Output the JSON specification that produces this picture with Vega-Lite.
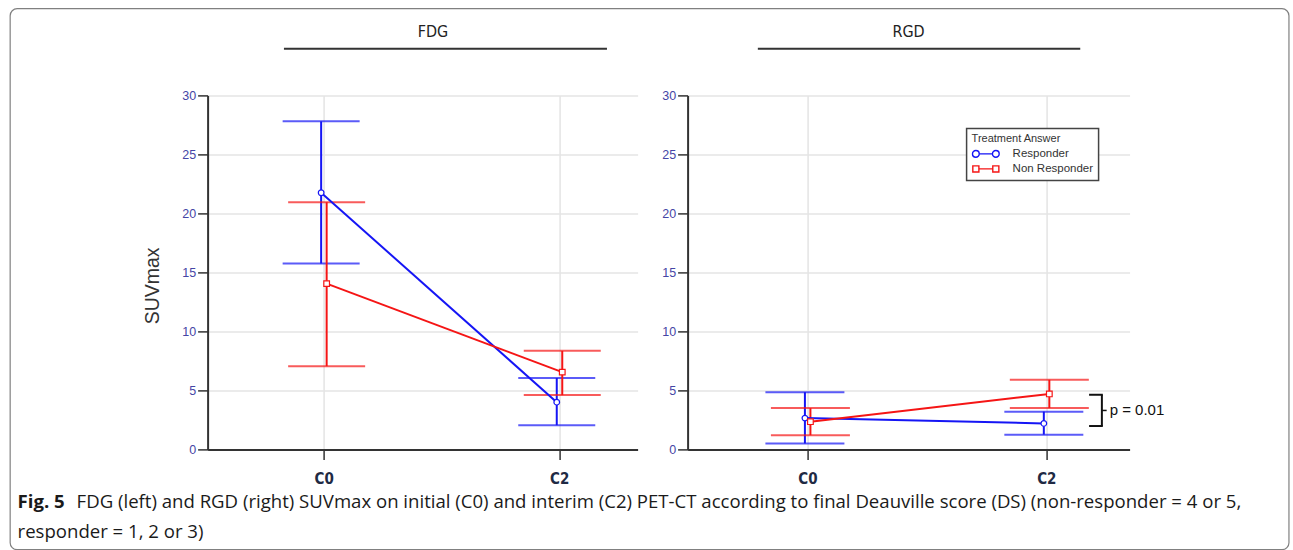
{
  "$schema": "https://vega.github.io/schema/vega-lite/v6.json",
  "padding": {"left": 8.6, "top": 7.4, "right": 0, "bottom": 0},
  "background": "white",
  "config": {
    "view": {"stroke": null},
    "font": "Liberation Sans",
    "axis": {
      "domainColor": "#333333", "domainWidth": 2,
      "tickColor": "#333333", "tickWidth": 1.5, "tickSize": 10,
      "gridColor": "#e4e4e4", "gridWidth": 1.5,
      "labelFont": "Liberation Sans"
    }
  },
  "title": {
    "text": "Fig. 5",
    "subtitle": "responder = 1, 2 or 3)",
    "orient": "bottom", "anchor": "start", "dx": 8, "dy": -57, "offset": 0,
    "font": "Open Sans", "fontSize": 18.6, "fontWeight": "bold", "color": "#1a1a1a",
    "subtitleFont": "Open Sans", "subtitleFontSize": 18.6, "subtitleColor": "#1a1a1a", "subtitleFontWeight": "normal",
    "subtitlePadding": 11.4
  },
  "datasets": {
    "suv": [
      {"tracer": "FDG", "group": "Responder", "cycle": 0, "mean": 21.75, "lo": 15.75, "hi": 27.8},
      {"tracer": "FDG", "group": "Responder", "cycle": 2, "mean": 4.0, "lo": 2.05, "hi": 6.05},
      {"tracer": "FDG", "group": "Non Responder", "cycle": 0, "mean": 14.05, "lo": 7.05, "hi": 20.95},
      {"tracer": "FDG", "group": "Non Responder", "cycle": 2, "mean": 6.55, "lo": 4.6, "hi": 8.35},
      {"tracer": "RGD", "group": "Responder", "cycle": 0, "mean": 2.65, "lo": 0.5, "hi": 4.85},
      {"tracer": "RGD", "group": "Responder", "cycle": 2, "mean": 2.2, "lo": 1.25, "hi": 3.2},
      {"tracer": "RGD", "group": "Non Responder", "cycle": 0, "mean": 2.35, "lo": 1.2, "hi": 3.5},
      {"tracer": "RGD", "group": "Non Responder", "cycle": 2, "mean": 4.7, "lo": 3.5, "hi": 5.9}
    ]
  },
  "vconcat": [
    {
      "title": {
        "text": "FDG (left) and RGD (right) SUVmax on initial (C0) and interim (C2) PET-CT according to final Deauville score (DS) (non-responder = 4 or 5,",
        "orient": "bottom", "anchor": "start", "dx": 67, "dy": -57, "offset": 0,
        "font": "Open Sans", "fontSize": 18.6, "fontWeight": "normal", "color": "#1a1a1a"
      },
      "bounds": "flush",
      "spacing": 50,
      "hconcat": [
        {
          "width": 430, "height": 354,
          "data": {"name": "suv"},
          "encoding": {
            "x": {"field": "cycle", "type": "quantitative",
                  "scale": {"domain": [-0.985, 2.665], "nice": false, "zero": false},
                  "axis": {"title": null, "values": [0, 2], "labelExpr": "'C' + datum.value", "labelFont": "DejaVu Sans Condensed", "labelFontWeight": "bold", "labelFontSize": 15, "labelColor": "#1f2a44", "labelPadding": 12, "labelDx": 5, "grid": true}}
          },
          "layer": [
            {
              "transform": [{"filter": "datum.tracer === 'FDG' && datum.group === 'Responder' && datum.cycle === 0"}],
              "layer": [
                {
                  "mark": {"type": "rect", "clip": false, "fill": null, "fillOpacity": 0, "stroke": "#808080", "strokeWidth": 1.2, "cornerRadius": 7},
                  "encoding": {"x": {"datum": -2.661}, "x2": {"datum": 8.194}, "y": {"datum": 37.35, "type": "quantitative", "scale": {"domain": [0, 30], "nice": false}, "axis": {"title": "SUVmax", "titleFontSize": 19.5, "titleFont": "Liberation Sans", "titleColor": "#333333", "titleFontWeight": "normal", "titlePadding": 19, "titleY": 190, "values": [0, 5, 10, 15, 20, 25, 30], "labelColor": "#4545a5", "labelFontSize": 12.5, "labelPadding": 2, "grid": true}}, "y2": {"datum": -8.5}}
                },
                {
                  "mark": {"type": "rule", "clip": false, "color": "#333333", "strokeWidth": 2},
                  "encoding": {"x": {"datum": -0.337}, "x2": {"datum": 2.405}, "y": {"datum": 33.96}}
                },
                {
                  "mark": {"type": "text", "clip": false, "align": "center", "baseline": "middle", "font": "DejaVu Sans Condensed", "fontSize": 16, "fontWeight": "normal", "color": "#222222"},
                  "encoding": {"x": {"datum": 0.928}, "y": {"datum": 35.4}, "text": {"value": "FDG"}}
                }
              ]
            },
            {
              "transform": [{"filter": "datum.tracer === 'FDG' && datum.group === 'Responder'"}],
              "layer": [
                {"mark": {"type": "rule", "strokeWidth": 2, "xOffset": -2.5, "color": "#1515f5"},
                 "encoding": {"y": {"field": "lo", "type": "quantitative"}, "y2": {"field": "hi"}}},
                {"mark": {"type": "tick", "orient": "horizontal", "size": 77, "thickness": 2, "xOffset": -2.5, "color": "#1515f5"},
                 "encoding": {"y": {"field": "hi", "type": "quantitative"}}},
                {"mark": {"type": "tick", "orient": "horizontal", "size": 77, "thickness": 2, "xOffset": -2.5, "color": "#1515f5"},
                 "encoding": {"y": {"field": "lo", "type": "quantitative"}}}
              ]
            },
            {
              "transform": [{"filter": "datum.tracer === 'FDG' && datum.group === 'Non Responder'"}],
              "layer": [
                {"mark": {"type": "rule", "strokeWidth": 2, "xOffset": 3, "color": "#f51515"},
                 "encoding": {"y": {"field": "lo", "type": "quantitative"}, "y2": {"field": "hi"}}},
                {"mark": {"type": "tick", "orient": "horizontal", "size": 77, "thickness": 2, "xOffset": 3, "color": "#f51515"},
                 "encoding": {"y": {"field": "hi", "type": "quantitative"}}},
                {"mark": {"type": "tick", "orient": "horizontal", "size": 77, "thickness": 2, "xOffset": 3, "color": "#f51515"},
                 "encoding": {"y": {"field": "lo", "type": "quantitative"}}}
              ]
            },
            {"transform": [{"filter": "datum.tracer === 'FDG'"}],
             "mark": {"type": "line", "strokeWidth": 2, "xOffset": {"expr": "datum.group === 'Responder' ? -2.5 : 3"}},
             "encoding": {"y": {"field": "mean", "type": "quantitative"},
               "color": {"field": "group", "type": "nominal", "scale": {"domain": ["Responder", "Non Responder"], "range": ["#1515f5", "#f51515"]}, "legend": null}}},
            {"transform": [{"filter": "datum.tracer === 'FDG' && datum.group === 'Responder'"}],
             "mark": {"type": "point", "shape": "circle", "filled": false, "fill": "white", "fillOpacity": 1, "opacity": 1, "size": 32, "strokeWidth": 1.2, "xOffset": -2.5, "color": "#1515f5"},
             "encoding": {"y": {"field": "mean", "type": "quantitative"}}},
            {"transform": [{"filter": "datum.tracer === 'FDG' && datum.group === 'Non Responder'"}],
             "mark": {"type": "point", "shape": "square", "filled": false, "fill": "white", "fillOpacity": 1, "opacity": 1, "size": 32, "strokeWidth": 1.2, "xOffset": 3, "color": "#f51515"},
             "encoding": {"y": {"field": "mean", "type": "quantitative"}}}
          ]
        },
        {
          "width": 442, "height": 354,
          "data": {"name": "suv"},
          "encoding": {
            "x": {"field": "cycle", "type": "quantitative",
                  "scale": {"domain": [-1.003, 2.697], "nice": false, "zero": false},
                  "axis": {"title": null, "values": [0, 2], "labelExpr": "'C' + datum.value", "labelFont": "DejaVu Sans Condensed", "labelFontWeight": "bold", "labelFontSize": 15, "labelColor": "#1f2a44", "labelPadding": 12, "labelDx": 5, "grid": true}}
          },
          "layer": [
            {
              "transform": [{"filter": "datum.tracer === 'RGD' && datum.group === 'Responder' && datum.cycle === 0"}],
              "layer": [
                {
                  "mark": {"type": "rule", "clip": false, "color": "#333333", "strokeWidth": 2},
                  "encoding": {"x": {"datum": -0.415}, "x2": {"datum": 2.284}, "y": {"datum": 33.96, "type": "quantitative", "scale": {"domain": [0, 30], "nice": false}, "axis": {"title": null, "values": [0, 5, 10, 15, 20, 25, 30], "labelColor": "#4545a5", "labelFontSize": 12.5, "labelPadding": 2, "grid": true}}}
                },
                {
                  "mark": {"type": "text", "clip": false, "align": "center", "baseline": "middle", "font": "DejaVu Sans Condensed", "fontSize": 16, "fontWeight": "normal", "color": "#222222"},
                  "encoding": {"x": {"datum": 0.847}, "y": {"datum": 35.4}, "text": {"value": "RGD"}}
                },
                {
                  "mark": {"type": "rule", "clip": false, "strokeWidth": 2, "color": "#111111"},
                  "encoding": {"x": {"datum": 2.465}, "y": {"datum": 1.98}, "y2": {"datum": 4.63}}
                },
                {
                  "mark": {"type": "rule", "clip": false, "strokeWidth": 2, "color": "#111111"},
                  "encoding": {"x": {"datum": 2.358}, "x2": {"datum": 2.473}, "y": {"datum": 4.63}}
                },
                {
                  "mark": {"type": "rule", "clip": false, "strokeWidth": 2, "color": "#111111"},
                  "encoding": {"x": {"datum": 2.358}, "x2": {"datum": 2.473}, "y": {"datum": 1.98}}
                },
                {
                  "mark": {"type": "rule", "clip": false, "strokeWidth": 1.5, "color": "#111111"},
                  "encoding": {"x": {"datum": 2.465}, "x2": {"datum": 2.505}, "y": {"datum": 3.3}}
                },
                {
                  "mark": {"type": "text", "clip": false, "align": "left", "baseline": "middle", "font": "Liberation Sans", "fontSize": 15, "fontWeight": "normal", "color": "#111111"},
                  "encoding": {"x": {"datum": 2.53}, "y": {"datum": 3.3}, "text": {"value": "p = 0.01"}}
                }
              ]
            },
            {
              "transform": [{"filter": "datum.tracer === 'RGD' && datum.group === 'Responder'"}],
              "layer": [
                {"mark": {"type": "rule", "strokeWidth": 2, "xOffset": -2.5, "color": "#1515f5"},
                 "encoding": {"y": {"field": "lo", "type": "quantitative"}, "y2": {"field": "hi"}}},
                {"mark": {"type": "tick", "orient": "horizontal", "size": 79, "thickness": 2, "xOffset": -2.5, "color": "#1515f5"},
                 "encoding": {"y": {"field": "hi", "type": "quantitative"}}},
                {"mark": {"type": "tick", "orient": "horizontal", "size": 79, "thickness": 2, "xOffset": -2.5, "color": "#1515f5"},
                 "encoding": {"y": {"field": "lo", "type": "quantitative"}}}
              ]
            },
            {
              "transform": [{"filter": "datum.tracer === 'RGD' && datum.group === 'Non Responder'"}],
              "layer": [
                {"mark": {"type": "rule", "strokeWidth": 2, "xOffset": 3, "color": "#f51515"},
                 "encoding": {"y": {"field": "lo", "type": "quantitative"}, "y2": {"field": "hi"}}},
                {"mark": {"type": "tick", "orient": "horizontal", "size": 79, "thickness": 2, "xOffset": 3, "color": "#f51515"},
                 "encoding": {"y": {"field": "hi", "type": "quantitative"}}},
                {"mark": {"type": "tick", "orient": "horizontal", "size": 79, "thickness": 2, "xOffset": 3, "color": "#f51515"},
                 "encoding": {"y": {"field": "lo", "type": "quantitative"}}}
              ]
            },
            {"transform": [{"filter": "datum.tracer === 'RGD'"}],
             "mark": {"type": "line", "strokeWidth": 2, "xOffset": {"expr": "datum.group === 'Responder' ? -2.5 : 3"}},
             "encoding": {"y": {"field": "mean", "type": "quantitative"},
               "color": {"field": "group", "type": "nominal", "scale": {"domain": ["Responder", "Non Responder"], "range": ["#1515f5", "#f51515"]},
                 "legend": {"title": "Treatment Answer", "orient": "none", "legendX": 279, "legendY": 33,
                   "titleFont": "Liberation Sans", "titleFontSize": 11, "titleFontWeight": "normal", "titleColor": "#333333", "titlePadding": 2,
                   "labelFont": "Liberation Sans", "labelFontSize": 11.5, "labelColor": "#333333", "labelOffset": 26,
                   "padding": 5, "strokeColor": "#444444", "fillColor": "white", "rowPadding": 1,
                   "symbolSize": 182, "symbolStrokeWidth": 1.4, "symbolFillColor": "white",
                   "encode": {
                     "legend": {"update": {"strokeWidth": {"value": 1.5}}},
                     "symbols": {"update": {
                       "fill": {"value": "white"},
                       "shape": {"signal": "datum.value === 'Responder' ? 'M-0.98,0 A0.5,0.5 0 1,1 0.02,0 A0.5,0.5 0 1,1 -0.98,0 Z M0.02,0 L1.98,0 M1.98,0 A0.5,0.5 0 1,1 2.98,0 A0.5,0.5 0 1,1 1.98,0 Z' : 'M-0.93,-0.45 L-0.03,-0.45 L-0.03,0.45 L-0.93,0.45 Z M-0.03,0 L2.03,0 M2.03,-0.45 L2.93,-0.45 L2.93,0.45 L2.03,0.45 Z'"}
                     }}
                   }}}}},
            {"transform": [{"filter": "datum.tracer === 'RGD' && datum.group === 'Responder'"}],
             "mark": {"type": "point", "shape": "circle", "filled": false, "fill": "white", "fillOpacity": 1, "opacity": 1, "size": 32, "strokeWidth": 1.2, "xOffset": -2.5, "color": "#1515f5"},
             "encoding": {"y": {"field": "mean", "type": "quantitative"}}},
            {"transform": [{"filter": "datum.tracer === 'RGD' && datum.group === 'Non Responder'"}],
             "mark": {"type": "point", "shape": "square", "filled": false, "fill": "white", "fillOpacity": 1, "opacity": 1, "size": 32, "strokeWidth": 1.2, "xOffset": 3, "color": "#f51515"},
             "encoding": {"y": {"field": "mean", "type": "quantitative"}}}
          ]
        }
      ],
      "resolve": {"scale": {"color": "independent", "x": "independent", "y": "independent"}, "legend": {"color": "independent"}}
    }
  ]
}
